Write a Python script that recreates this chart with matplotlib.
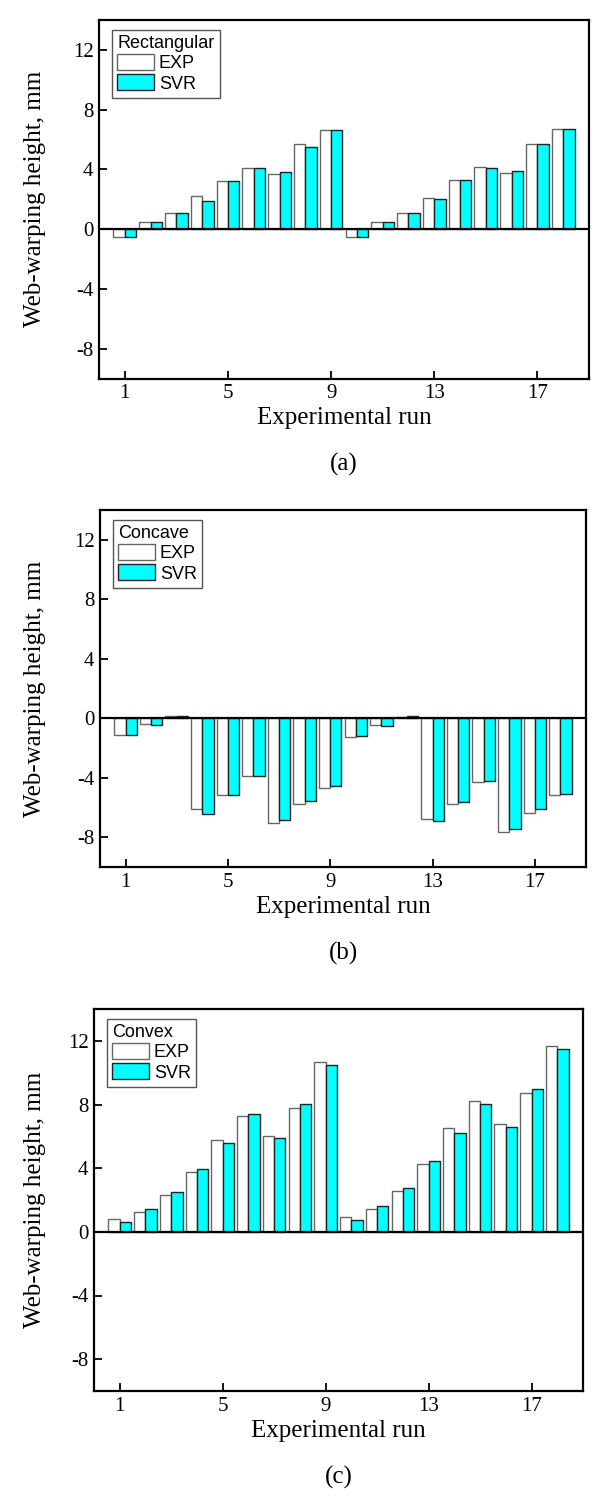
import matplotlib
matplotlib.use("Agg")
import matplotlib.pyplot as plt
import numpy as np

plt.rcParams["axes.unicode_minus"] = False

# Experimental runs 1..18
runs = np.arange(1, 19)

# (a) Rectangular
rect_exp = [-0.53, 0.51, 1.07, 2.20, 3.24, 4.07, 3.67, 5.67, 6.67,
            -0.53, 0.51, 1.07, 2.09, 3.29, 4.18, 3.73, 5.67, 6.73]
rect_svr = [-0.53, 0.51, 1.07, 1.91, 3.24, 4.07, 3.80, 5.53, 6.67,
            -0.53, 0.51, 1.07, 2.00, 3.29, 4.13, 3.93, 5.67, 6.73]

# (b) Concave
conc_exp = [-1.15, -0.40, 0.13, -6.11, -5.19, -3.87, -7.03, -5.78, -4.72,
            -1.28, -0.47, 0.11, -6.74, -5.75, -4.31, -7.62, -6.40, -5.15]
conc_svr = [-1.15, -0.47, 0.16, -6.43, -5.19, -3.87, -6.81, -5.53, -4.58,
            -1.21, -0.52, 0.13, -6.94, -5.66, -4.25, -7.44, -6.13, -5.10]

# (c) Convex
conv_exp = [0.78, 1.27, 2.31, 3.77, 5.78, 7.27, 6.04, 7.80, 10.64,
            0.91, 1.42, 2.56, 4.28, 6.50, 8.22, 6.76, 8.75, 11.67]
conv_svr = [0.61, 1.42, 2.50, 3.96, 5.61, 7.39, 5.87, 8.03, 10.47,
            0.72, 1.61, 2.73, 4.47, 6.21, 8.05, 6.57, 8.96, 11.50]

panels = [
    ("Rectangular", rect_exp, rect_svr, "(a)"),
    ("Concave", conc_exp, conc_svr, "(b)"),
    ("Convex", conv_exp, conv_svr, "(c)"),
]

# axes boxes in pixels: left, top, right, bottom
W, H = 605, 1497
boxes = [
    (99, 20, 589, 378.7),
    (100, 510, 586, 867),
    (94, 1009, 583, 1391),
]

serif = "Liberation Serif"
sans = "Liberation Sans"

fig = plt.figure(figsize=(W / 100, H / 100), dpi=100)

width = 0.44
for (title, exp, svr, tag), (l, t, r, b) in zip(panels, boxes):
    ax = fig.add_axes([l / W, 1 - b / H, (r - l) / W, (b - t) / H])
    ax.bar(runs - width / 2, exp, width, color="white", edgecolor="#666666",
           linewidth=1.0, label="EXP", zorder=2)
    ax.bar(runs + width / 2, svr, width, color="#00FFFF", edgecolor="#222222",
           linewidth=1.0, label="SVR", zorder=2)
    ax.axhline(0, color="black", linewidth=1.6, zorder=3)

    ax.set_xlim(0, 19)
    ax.set_ylim(-10, 14)
    ax.set_xticks([1, 5, 9, 13, 17])
    ax.set_yticks([-8, -4, 0, 4, 8, 12])
    ax.tick_params(direction="in", length=6, width=1.3, labelsize=15, pad=4)
    for lab in ax.get_xticklabels() + ax.get_yticklabels():
        lab.set_fontfamily(serif)
    for s in ax.spines.values():
        s.set_linewidth(1.6)

    ax.set_xlabel("Experimental run", fontsize=18, family=serif, labelpad=3)
    ax.set_ylabel("Web-warping height, mm", fontsize=18, family=serif)
    ax.yaxis.set_label_coords((46 - l) / (r - l), 0.5)

    leg = ax.legend(title=title, loc="upper left",
                    bbox_to_anchor=(13 / (r - l), 1 - 10 / (b - t)),
                    borderaxespad=0, fancybox=False, framealpha=1,
                    edgecolor="#555555", prop={"family": sans, "size": 13},
                    handlelength=2.0, handleheight=1.0, handletextpad=0.3,
                    labelspacing=0.1, borderpad=0.3)
    leg.get_title().set_fontfamily(sans)
    leg.get_title().set_fontsize(13)
    leg._legend_box.align = "left"
    leg.get_frame().set_linewidth(1.0)

    fig.text(0.5 * (l + r) / W, 1 - (b + 86) / H, tag, fontsize=18,
             family=serif, ha="center", va="center")

plt.savefig("out.png", dpi=100)
plt.close()
